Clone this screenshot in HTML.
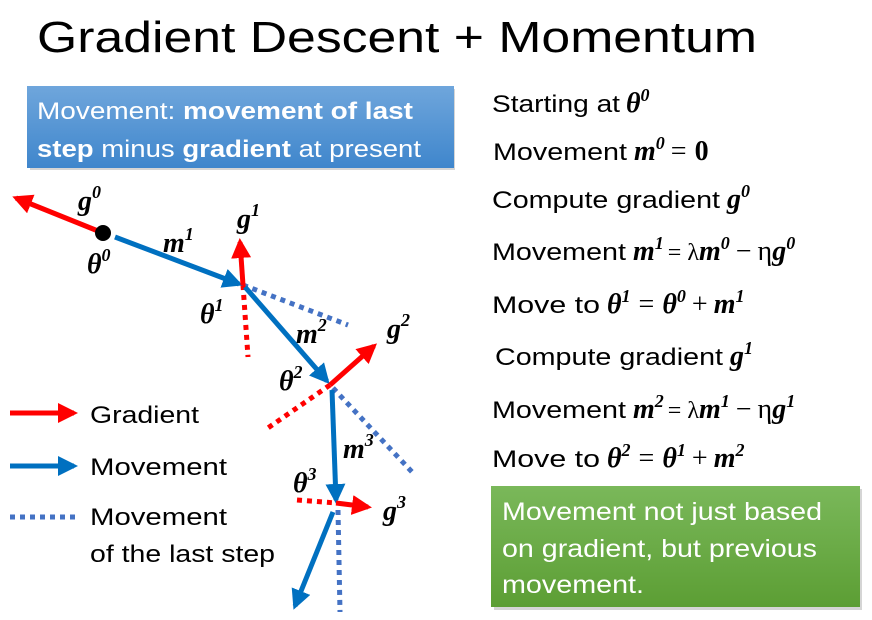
<!DOCTYPE html>
<html><head><meta charset="utf-8"><style>
body{margin:0;background:#fff;}
svg{display:block;}
.t{font-family:"Liberation Sans",sans-serif;fill:#000;}
.m{font-family:"Liberation Serif",serif;font-weight:bold;font-style:italic;fill:#000;}
.w{font-family:"Liberation Sans",sans-serif;fill:#fff;}
.o{font-weight:normal;font-style:normal;}
</style></head><body>
<svg width="872" height="620" viewBox="0 0 872 620" xmlns="http://www.w3.org/2000/svg">
<defs>
<linearGradient id="gb" x1="0" y1="0" x2="0" y2="1"><stop offset="0" stop-color="#6fa6dc"/><stop offset="1" stop-color="#3f86cc"/></linearGradient>
<linearGradient id="gg" x1="0" y1="0" x2="0" y2="1"><stop offset="0" stop-color="#7ab85a"/><stop offset="1" stop-color="#5c9e34"/></linearGradient>
<marker id="ar" viewBox="0 0 10 10" refX="8" refY="5" markerWidth="4" markerHeight="4" orient="auto"><path d="M0,0L10,5L0,10z" fill="#ff0000"/></marker>
<marker id="ab" viewBox="0 0 10 10" refX="8" refY="5" markerWidth="4" markerHeight="4" orient="auto"><path d="M0,0L10,5L0,10z" fill="#0070c0"/></marker>
</defs>
<text class="t" x="37" y="52" font-size="44" textLength="720" lengthAdjust="spacingAndGlyphs">Gradient Descent + Momentum</text>

<rect x="30" y="89" width="425" height="81" fill="#888" opacity="0.35"/>
<rect x="27" y="86" width="427" height="82" fill="url(#gb)"/>
<text class="w" x="37" y="119" font-size="24" textLength="376" lengthAdjust="spacingAndGlyphs">Movement: <tspan font-weight="bold">movement of last</tspan></text>
<text class="w" x="37" y="157" font-size="24" textLength="384" lengthAdjust="spacingAndGlyphs"><tspan font-weight="bold">step</tspan> minus <tspan font-weight="bold">gradient</tspan> at present</text>

<rect x="494" y="489" width="368" height="121" fill="#888" opacity="0.35"/>
<rect x="491" y="486" width="369" height="121" fill="url(#gg)"/>
<text class="w" x="502" y="520" font-size="25" textLength="320" lengthAdjust="spacingAndGlyphs">Movement not just based</text>
<text class="w" x="502" y="557" font-size="25" textLength="315" lengthAdjust="spacingAndGlyphs">on gradient, but previous</text>
<text class="w" x="502" y="593" font-size="25" textLength="142" lengthAdjust="spacingAndGlyphs">movement.</text>

<!-- right column -->
<g font-size="24">
<text class="t" x="492" y="112" textLength="128" lengthAdjust="spacingAndGlyphs">Starting at</text><text class="m" font-size="28" x="626" y="112">θ<tspan font-size="18" dy="-11">0</tspan></text>
<text class="t" x="493" y="160" textLength="134" lengthAdjust="spacingAndGlyphs">Movement</text><text class="m" font-size="28" x="634" y="160">m<tspan font-size="18" dy="-11">0</tspan><tspan class="o" dy="11" dx="6">=</tspan><tspan dx="8" font-style="normal">0</tspan></text>
<text class="t" x="492" y="208" textLength="228" lengthAdjust="spacingAndGlyphs">Compute gradient</text><text class="m" font-size="28" x="727" y="208">g<tspan font-size="18" dy="-11">0</tspan></text>
<text class="t" x="492" y="260" textLength="134" lengthAdjust="spacingAndGlyphs">Movement</text><text class="m" font-size="28" x="633" y="260">m<tspan font-size="18" dy="-11">1</tspan><tspan class="o" font-size="24" dy="11" dx="4">= λ</tspan><tspan>m</tspan><tspan font-size="18" dy="-11">0</tspan><tspan class="o" dy="11" dx="6">−</tspan><tspan class="o" font-style="italic" dx="6">η</tspan><tspan>g</tspan><tspan font-size="18" dy="-11">0</tspan></text>
<text class="t" x="492" y="313" textLength="108" lengthAdjust="spacingAndGlyphs">Move to</text><text class="m" font-size="28" x="607" y="313">θ<tspan font-size="18" dy="-11">1</tspan><tspan class="o" dy="11" dx="8">=</tspan><tspan dx="8">θ</tspan><tspan font-size="18" dy="-11">0</tspan><tspan class="o" dy="11" dx="6">+</tspan><tspan dx="6">m</tspan><tspan font-size="18" dy="-11">1</tspan></text>
<text class="t" x="495" y="365" textLength="228" lengthAdjust="spacingAndGlyphs">Compute gradient</text><text class="m" font-size="28" x="730" y="365">g<tspan font-size="18" dy="-11">1</tspan></text>
<text class="t" x="492" y="418" textLength="134" lengthAdjust="spacingAndGlyphs">Movement</text><text class="m" font-size="28" x="633" y="418">m<tspan font-size="18" dy="-11">2</tspan><tspan class="o" font-size="24" dy="11" dx="4">= λ</tspan><tspan>m</tspan><tspan font-size="18" dy="-11">1</tspan><tspan class="o" dy="11" dx="6">−</tspan><tspan class="o" font-style="italic" dx="6">η</tspan><tspan>g</tspan><tspan font-size="18" dy="-11">1</tspan></text>
<text class="t" x="492" y="467" textLength="108" lengthAdjust="spacingAndGlyphs">Move to</text><text class="m" font-size="28" x="607" y="467">θ<tspan font-size="18" dy="-11">2</tspan><tspan class="o" dy="11" dx="8">=</tspan><tspan dx="8">θ</tspan><tspan font-size="18" dy="-11">1</tspan><tspan class="o" dy="11" dx="6">+</tspan><tspan dx="6">m</tspan><tspan font-size="18" dy="-11">2</tspan></text>
</g>

<!-- diagram -->
<g stroke-width="5" fill="none">
<line x1="243" y1="285" x2="348" y2="325" stroke="#4472c4" stroke-dasharray="5,5"/>
<line x1="243" y1="285" x2="248" y2="357" stroke="#ff0000" stroke-dasharray="5,5"/>
<line x1="330" y1="385" x2="265" y2="430" stroke="#ff0000" stroke-dasharray="5,5"/>
<line x1="333" y1="388" x2="413" y2="473" stroke="#4472c4" stroke-dasharray="5,5"/>
<line x1="297" y1="500" x2="336" y2="503" stroke="#ff0000" stroke-dasharray="5,5"/>
<line x1="338" y1="510" x2="340" y2="612" stroke="#4472c4" stroke-dasharray="5,5"/>
<line x1="103" y1="233" x2="16" y2="198" stroke="#ff0000" marker-end="url(#ar)"/>
<line x1="115" y1="237" x2="239" y2="284" stroke="#0070c0" marker-end="url(#ab)"/>
<line x1="243" y1="285" x2="240" y2="242" stroke="#ff0000" marker-end="url(#ar)"/>
<line x1="245" y1="287" x2="327" y2="381" stroke="#0070c0" marker-end="url(#ab)"/>
<line x1="330" y1="385" x2="374" y2="346" stroke="#ff0000" marker-end="url(#ar)"/>
<line x1="332" y1="390" x2="336" y2="500" stroke="#0070c0" marker-end="url(#ab)"/>
<line x1="336" y1="503" x2="368" y2="507" stroke="#ff0000" marker-end="url(#ar)"/>
<line x1="333" y1="512" x2="295" y2="606" stroke="#0070c0" marker-end="url(#ab)"/>
<line x1="10" y1="413" x2="74" y2="413" stroke="#ff0000" marker-end="url(#ar)"/>
<line x1="10" y1="466" x2="74" y2="466" stroke="#0070c0" marker-end="url(#ab)"/>
<line x1="10" y1="517" x2="80" y2="517" stroke="#4472c4" stroke-dasharray="5,5"/>
</g>
<circle cx="103" cy="233" r="8" fill="#000"/>
<g font-size="28">
<text class="m" x="78" y="210">g<tspan font-size="18" dy="-12">0</tspan></text>
<text class="m" x="87" y="273">θ<tspan font-size="18" dy="-12">0</tspan></text>
<text class="m" x="163" y="252">m<tspan font-size="18" dy="-12">1</tspan></text>
<text class="m" x="237" y="228">g<tspan font-size="18" dy="-12">1</tspan></text>
<text class="m" x="200" y="323">θ<tspan font-size="18" dy="-12">1</tspan></text>
<text class="m" x="296" y="343">m<tspan font-size="18" dy="-12">2</tspan></text>
<text class="m" x="387" y="338">g<tspan font-size="18" dy="-12">2</tspan></text>
<text class="m" x="279" y="390">θ<tspan font-size="18" dy="-12">2</tspan></text>
<text class="m" x="343" y="458">m<tspan font-size="18" dy="-12">3</tspan></text>
<text class="m" x="293" y="492">θ<tspan font-size="18" dy="-12">3</tspan></text>
<text class="m" x="383" y="520">g<tspan font-size="18" dy="-12">3</tspan></text>
</g>
<g font-size="24">
<text class="t" x="90" y="423" textLength="109" lengthAdjust="spacingAndGlyphs">Gradient</text>
<text class="t" x="90" y="475" textLength="137" lengthAdjust="spacingAndGlyphs">Movement</text>
<text class="t" x="90" y="525" textLength="137" lengthAdjust="spacingAndGlyphs">Movement</text>
<text class="t" x="90" y="562" textLength="185" lengthAdjust="spacingAndGlyphs">of the last step</text>
</g>
</svg>
</body></html>
